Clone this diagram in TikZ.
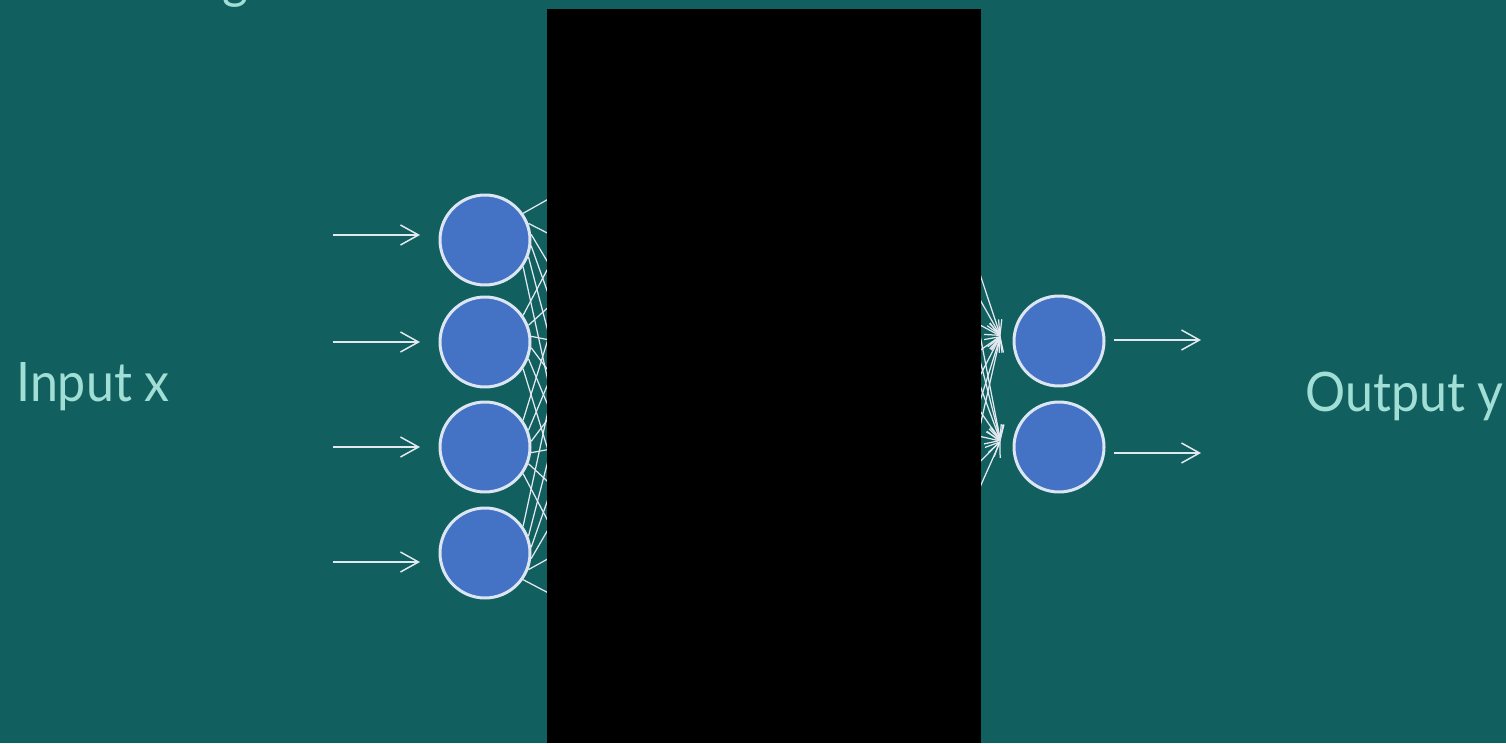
\documentclass[tikz,border=0pt]{standalone}
\usepackage{fontspec}
\setmainfont{Lato}
\newfontfamily\labelfont{Lato}[FakeStretch=0.92]
\usepackage{tikz}
\usetikzlibrary{arrows.meta,calc,positioning}

\definecolor{bgteal}{RGB}{17,95,95}
\definecolor{txtteal}{RGB}{160,222,214}
\definecolor{nodeblue}{RGB}{68,114,196}
\definecolor{rimwhite}{RGB}{220,230,242}
\definecolor{linewhite}{RGB}{225,232,240}

\tikzset{
  neuron/.style={circle,draw=rimwhite,line width=0.06cm,fill=nodeblue,minimum size=1.8cm,inner sep=0pt},
  bigtext/.style={text=txtteal,inner sep=0pt,font=\labelfont\fontsize{31}{37}\selectfont},
  feed/.style={draw=linewhite,line width=0.03cm,-{Straight Barb[length=3.6mm,width=4mm]}},
  wire/.style={draw=linewhite,line width=0.025cm,-{Straight Barb[length=2.8mm,width=2.6mm]}}
}

\begin{document}
\begin{tikzpicture}[x=0.02cm,y=-0.02cm]
  \clip (0,0) rectangle (1506,743);
  \fill[bgteal] (0,0) rectangle (1506,743);

  % cut-off title
  \node[bigtext,anchor=base west] (title) at (222,-2) {g};

  % hidden layer (covered by the box)
  \foreach \k/\yy in {1/170,2/260,3/350,4/440,5/530,6/620}
    \coordinate (ha\k) at (600,\yy);
  \foreach \k/\yy in {1/190,2/250,3/310,4/370,5/430,6/490,7/550}
    \coordinate (hb\k) at (952,\yy);

  % input layer
  \node[neuron] (i1) at (485,240) {};
  \node[neuron] (i2) at (485,342) {};
  \node[neuron] (i3) at (485,447) {};
  \node[neuron] (i4) at (485,553) {};

  % output layer
  \node[neuron] (o1) at (1059,341) {};
  \node[neuron] (o2) at (1059,447) {};
  \coordinate (t1) at ([xshift=-0.24cm,yshift=0.1cm]o1.west);
  \coordinate (t2) at ([xshift=-0.24cm,yshift=0.12cm]o2.west);

  % weights
  \foreach \i in {1,...,4}
    \foreach \k in {1,...,6}
      \draw[wire] (i\i.{35-14*(\k-1)}) -- (ha\k);
  \foreach \o in {1,2}
    \foreach \k in {1,...,7}
      \draw[wire] (hb\k) -- (t\o);

  % hidden part
  \fill[black] (547,9) rectangle (981,743);

  % inputs and outputs
  \coordinate (xs1) at (333,235); \coordinate (xe1) at (420,235);
  \coordinate (xs2) at (333,342); \coordinate (xe2) at (420,342);
  \coordinate (xs3) at (333,447); \coordinate (xe3) at (420,447);
  \coordinate (xs4) at (333,562); \coordinate (xe4) at (420,562);
  \foreach \i in {1,...,4}
    \draw[feed] (xs\i) -- (xe\i);
  \coordinate (ys1) at (1114,340); \coordinate (ye1) at (1201,340);
  \coordinate (ys2) at (1114,453); \coordinate (ye2) at (1201,453);
  \draw[feed] (ys1) -- (ye1);
  \draw[feed] (ys2) -- (ye2);

  \node[bigtext,anchor=base west] (inlabel) at (16,401) {Input x};
  \node[bigtext,anchor=base west] (outlabel) at (1305,411) {Output y};
\end{tikzpicture}
\end{document}
